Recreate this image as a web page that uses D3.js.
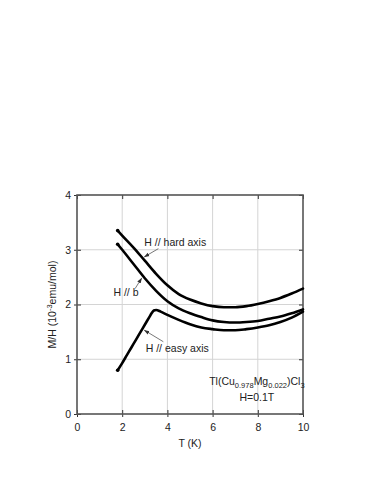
<!DOCTYPE html>
<html><head><meta charset="utf-8">
<script src="https://cdn.jsdelivr.net/npm/d3@7"></script>
<style>body{margin:0;background:#fff}svg{display:block}text{font-family:"Liberation Sans",Arial,sans-serif}</style>
</head><body><div id="chart"></div>
<script>
const xTicks = [0, 2, 4, 6, 8, 10];
const yTicks = [0, 1, 2, 3, 4];
const hardT = [1.8, 2.0, 2.5, 3.0, 3.5, 4.0, 4.5, 5.0, 5.5, 6.0, 6.5, 7.0, 7.5, 8.0, 8.5, 9.0, 9.5, 10.0];
const hardM = [3.35, 3.26, 3.04, 2.80, 2.56, 2.35, 2.19, 2.09, 2.02, 1.97, 1.95, 1.95, 1.97, 2.01, 2.06, 2.12, 2.20, 2.29];
const bT = [1.8, 2.0, 2.5, 3.0, 3.5, 4.0, 4.5, 5.0, 5.5, 6.0, 6.5, 7.0, 7.5, 8.0, 8.5, 9.0, 9.5, 10.0];
const bM = [3.10, 3.00, 2.74, 2.48, 2.25, 2.06, 1.93, 1.84, 1.77, 1.71, 1.68, 1.67, 1.68, 1.70, 1.74, 1.78, 1.84, 1.91];
const easyT = [1.8, 2.0, 2.2, 2.4, 2.6, 2.8, 3.0, 3.2, 3.3, 3.4, 3.5, 3.7, 4.0, 4.5, 5.0, 5.5, 6.0, 6.5, 7.0, 7.5, 8.0, 8.5, 9.0, 9.5, 10.0];
const easyM = [0.80, 0.93, 1.07, 1.21, 1.35, 1.49, 1.63, 1.77, 1.84, 1.89, 1.90, 1.87, 1.81, 1.72, 1.64, 1.58, 1.55, 1.53, 1.53, 1.55, 1.58, 1.62, 1.68, 1.76, 1.87];
// annotations: label, text anchor (T,M), arrow tail (T,M), arrow head (T,M)
const annLabels = ["H // hard axis", "H // b", "H // easy axis"];
const annTextPos = [[2.98, 3.07], [1.61, 2.15], [3.04, 1.13]];
const annTail = [[3.60, 3.02], [2.57, 2.29], [3.82, 1.32]];
const annHead = [[2.98, 2.87], [2.86, 2.48], [2.98, 1.53]];
const formulaPos = [7.96, 0.53];
const fieldLabel = "H=0.1T";
const fieldPos = [7.96, 0.23];

const W = 382, H = 494;
const svg = d3.select("#chart").append("svg").attr("width", W).attr("height", H);
const x = d3.scaleLinear().domain([0, 10]).range([77, 303]);
const y = d3.scaleLinear().domain([0, 4]).range([414, 195]);

// grid
svg.append("g").selectAll("line").data(xTicks.slice(1, -1)).join("line")
  .attr("x1", d => x(d)).attr("x2", d => x(d)).attr("y1", y(0)).attr("y2", y(4))
  .attr("stroke", "#d4d4d4").attr("stroke-width", 1);
svg.append("g").selectAll("line").data(yTicks.slice(1, -1)).join("line")
  .attr("y1", d => y(d)).attr("y2", d => y(d)).attr("x1", x(0)).attr("x2", x(10))
  .attr("stroke", "#d4d4d4").attr("stroke-width", 1);

// axes
const fmt = d3.format("d");
svg.append("g").attr("transform", `translate(0,${y(0)})`)
  .call(d3.axisBottom(x).tickValues(xTicks).tickFormat(fmt).tickSize(3).tickPadding(7));
svg.append("g").attr("transform", `translate(${x(0)},0)`)
  .call(d3.axisLeft(y).tickValues(yTicks).tickFormat(fmt).tickSize(3).tickPadding(3));
svg.append("g").attr("transform", `translate(0,${y(4)})`)
  .call(d3.axisTop(x).tickValues(xTicks).tickSize(-4).tickFormat(""));
svg.append("g").attr("transform", `translate(${x(10)},0)`)
  .call(d3.axisRight(y).tickValues(yTicks).tickSize(-4).tickFormat(""));
svg.append("g").attr("transform", `translate(0,${y(0)})`)
  .call(d3.axisBottom(x).tickValues(xTicks).tickSize(-4).tickFormat(""));
svg.append("g").attr("transform", `translate(${x(0)},0)`)
  .call(d3.axisLeft(y).tickValues(yTicks).tickSize(-4).tickFormat(""));
svg.selectAll(".domain").remove();
svg.selectAll(".tick line").attr("stroke", "#333").attr("stroke-width", 1);
svg.selectAll(".tick text").attr("font-size", 10.5).attr("fill", "#222")
  .style("font-family", "'Liberation Sans', Arial, sans-serif");

// frame
svg.append("rect").attr("x", x(0)).attr("y", y(4)).attr("width", x(10) - x(0)).attr("height", y(0) - y(4))
  .attr("fill", "none").attr("stroke", "#555").attr("stroke-width", 1.6);

// curves
const line = d3.line().x(d => x(d[0])).y(d => y(d[1])).curve(d3.curveMonotoneX);
const series = [d3.zip(hardT, hardM), d3.zip(bT, bM), d3.zip(easyT, easyM)];
svg.append("g").selectAll("path").data(series).join("path")
  .attr("d", line).attr("fill", "none").attr("stroke", "#000").attr("stroke-width", 2.6)
  .attr("stroke-linecap", "round");
svg.append("g").selectAll("circle").data(series).join("circle")
  .attr("cx", d => x(d[0][0])).attr("cy", d => y(d[0][1])).attr("r", 1.8).attr("fill", "#000");

// annotations
svg.append("defs").append("marker").attr("id", "ah").attr("viewBox", "0 0 10 10")
  .attr("refX", 9).attr("refY", 5).attr("markerWidth", 7).attr("markerHeight", 7)
  .attr("orient", "auto-start-reverse").append("path").attr("d", "M0,1.5L10,5L0,8.5z").attr("fill", "#333");
annLabels.forEach((lab, i) => {
  svg.append("line").attr("x1", x(annTail[i][0])).attr("y1", y(annTail[i][1]))
    .attr("x2", x(annHead[i][0])).attr("y2", y(annHead[i][1]))
    .attr("stroke", "#555").attr("stroke-width", 0.8).attr("marker-end", "url(#ah)");
  svg.append("text").attr("x", x(annTextPos[i][0])).attr("y", y(annTextPos[i][1]))
    .attr("font-size", 10.5).attr("fill", "#222").text(lab);
});

// formula
const ft = svg.append("text").attr("x", x(formulaPos[0])).attr("y", y(formulaPos[1]))
  .attr("text-anchor", "middle").attr("font-size", 10.5).attr("fill", "#222");
ft.append("tspan").text("Tl(Cu");
ft.append("tspan").attr("font-size", 7.5).attr("dy", 3).text("0.978");
ft.append("tspan").attr("dy", -3).text("Mg");
ft.append("tspan").attr("font-size", 7.5).attr("dy", 3).text("0.022");
ft.append("tspan").attr("dy", -3).text(")Cl");
ft.append("tspan").attr("font-size", 7.5).attr("dy", 3).text("3");
svg.append("text").attr("x", x(fieldPos[0])).attr("y", y(fieldPos[1]))
  .attr("text-anchor", "middle").attr("font-size", 10.5).attr("fill", "#222").text(fieldLabel);

// axis titles
svg.append("text").attr("x", (x(0) + x(10)) / 2).attr("y", 447).attr("text-anchor", "middle")
  .attr("font-size", 10.5).attr("fill", "#222").text("T (K)");
const yt = svg.append("text").attr("transform", `translate(56,${(y(0) + y(4)) / 2}) rotate(-90)`)
  .attr("text-anchor", "middle").attr("font-size", 10.5).attr("fill", "#222");
yt.append("tspan").text("M/H (10");
yt.append("tspan").attr("font-size", 7.5).attr("dy", -4).text("-3");
yt.append("tspan").attr("dy", 4).text("emu/mol)");
</script></body></html>
